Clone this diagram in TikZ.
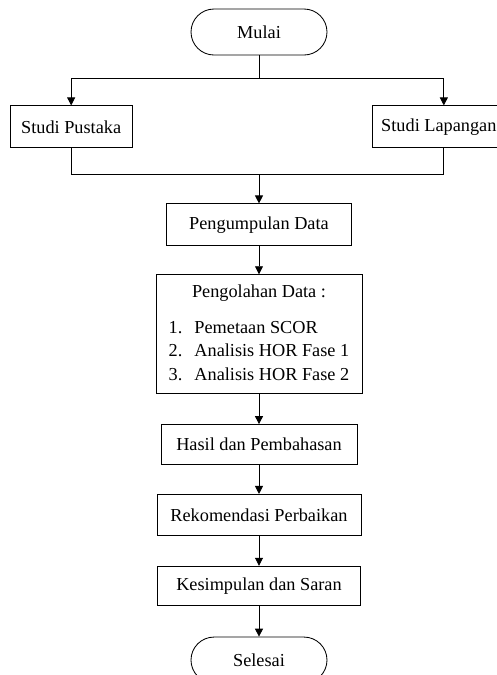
\documentclass[tikz,border=0pt]{standalone}
\usepackage{fontspec}
\setmainfont{Liberation Serif}
\usepackage{tikz}
\usetikzlibrary{positioning, arrows.meta}

\begin{document}
\begin{tikzpicture}[font=\fontsize{13}{16.7}\selectfont, line width=0.6pt,
    box/.style={draw, rectangle, minimum height=1.05cm, inner sep=2pt},
    terminal/.style={draw, rectangle, rounded corners=0.575cm, minimum width=3.4cm, minimum height=1.15cm},
    arr/.style={-{Triangle[length=0.2cm, width=0.2cm]}}]
    \useasboundingbox (0,0) rectangle (12.425,-16.875);
    \node[terminal] (mulai) at (6.475,-0.8) {Mulai};
    \node[box, minimum width=3.05cm, below left=1.25cm and 1.45cm of mulai] (pustaka) {Studi Pustaka};
    \node[box, minimum width=3.3cm, below right=1.25cm and 1.125cm of mulai] (lapangan) {Studi Lapangan};
    \node[box, minimum width=4.625cm, below=3.7cm of mulai] (kumpul) {Pengumpulan Data};
    \node[box, minimum width=5.15cm, minimum height=2.975cm, below=0.7cm of kumpul] (olah) {\begin{tabular}{@{}l@{\hspace{0.3cm}}l@{}}
        \multicolumn{2}{c}{Pengolahan Data :}\\[8.8pt]
        1. & Pemetaan SCOR\\
        2. & Analisis HOR Fase 1\\
        3. & Analisis HOR Fase 2
    \end{tabular}};
    \node[box, minimum width=4.9cm, minimum height=1cm, below=0.75cm of olah] (hasil) {Hasil dan Pembahasan};
    \node[box, minimum width=5.1cm, minimum height=1.025cm, below=0.725cm of hasil] (rekom) {Rekomendasi Perbaikan};
    \node[box, minimum width=5.075cm, minimum height=0.975cm, below=0.75cm of rekom] (simpul) {Kesimpulan dan Saran};
    \node[terminal, below=0.775cm of simpul] (selesai) {Selesai};

    \coordinate (top) at ([yshift=-0.575cm]mulai.south);
    \coordinate (bot) at ([yshift=-0.65cm]pustaka.south -| mulai.south);
    \draw (mulai.south) -- (top);
    \draw[arr] (top) -| (pustaka.north);
    \draw[arr] (top) -| ([xshift=0.125cm]lapangan.north);
    \draw (pustaka.south) |- (bot) -| ([xshift=0.125cm]lapangan.south);
    \draw[arr] (bot) -- (kumpul);
    \draw[arr] (kumpul) -- (olah);
    \draw[arr] (olah) -- (hasil);
    \draw[arr] (hasil) -- (rekom);
    \draw[arr] (rekom) -- (simpul);
    \draw[arr] (simpul) -- (selesai);
\end{tikzpicture}
\end{document}
